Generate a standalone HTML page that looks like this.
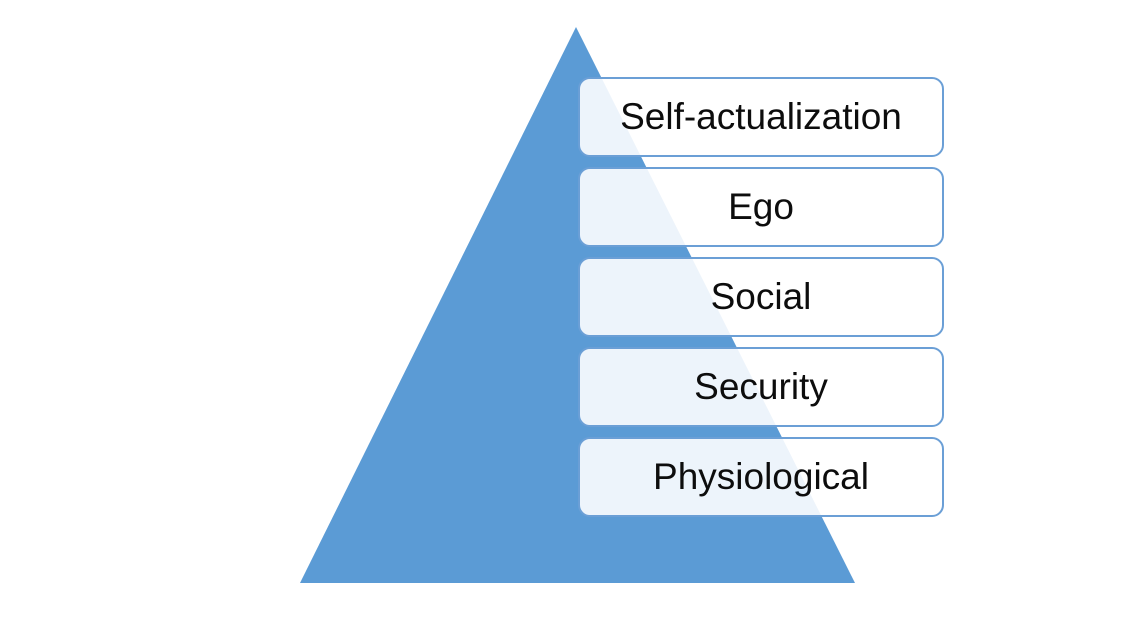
<!DOCTYPE html>
<html><head><style>
html,body{margin:0;padding:0;background:#fff;width:1133px;height:630px;overflow:hidden;position:relative}
.b{position:absolute;left:578px;width:362px;height:76px;border:2px solid #6b9fd6;border-radius:12px;background:rgba(255,255,255,0.89);font-family:"Liberation Sans",sans-serif;font-size:37px;color:#0d0d0d;display:flex;align-items:center;justify-content:center;box-sizing:content-box}
</style></head><body>
<svg width="1133" height="630" style="position:absolute;left:0;top:0"><polygon points="576,27 855,583 300,583" fill="#5b9bd5"/></svg>
<div class="b" style="top:77px">Self-actualization</div>
<div class="b" style="top:167px">Ego</div>
<div class="b" style="top:257px">Social</div>
<div class="b" style="top:347px">Security</div>
<div class="b" style="top:437px">Physiological</div>
</body></html>
